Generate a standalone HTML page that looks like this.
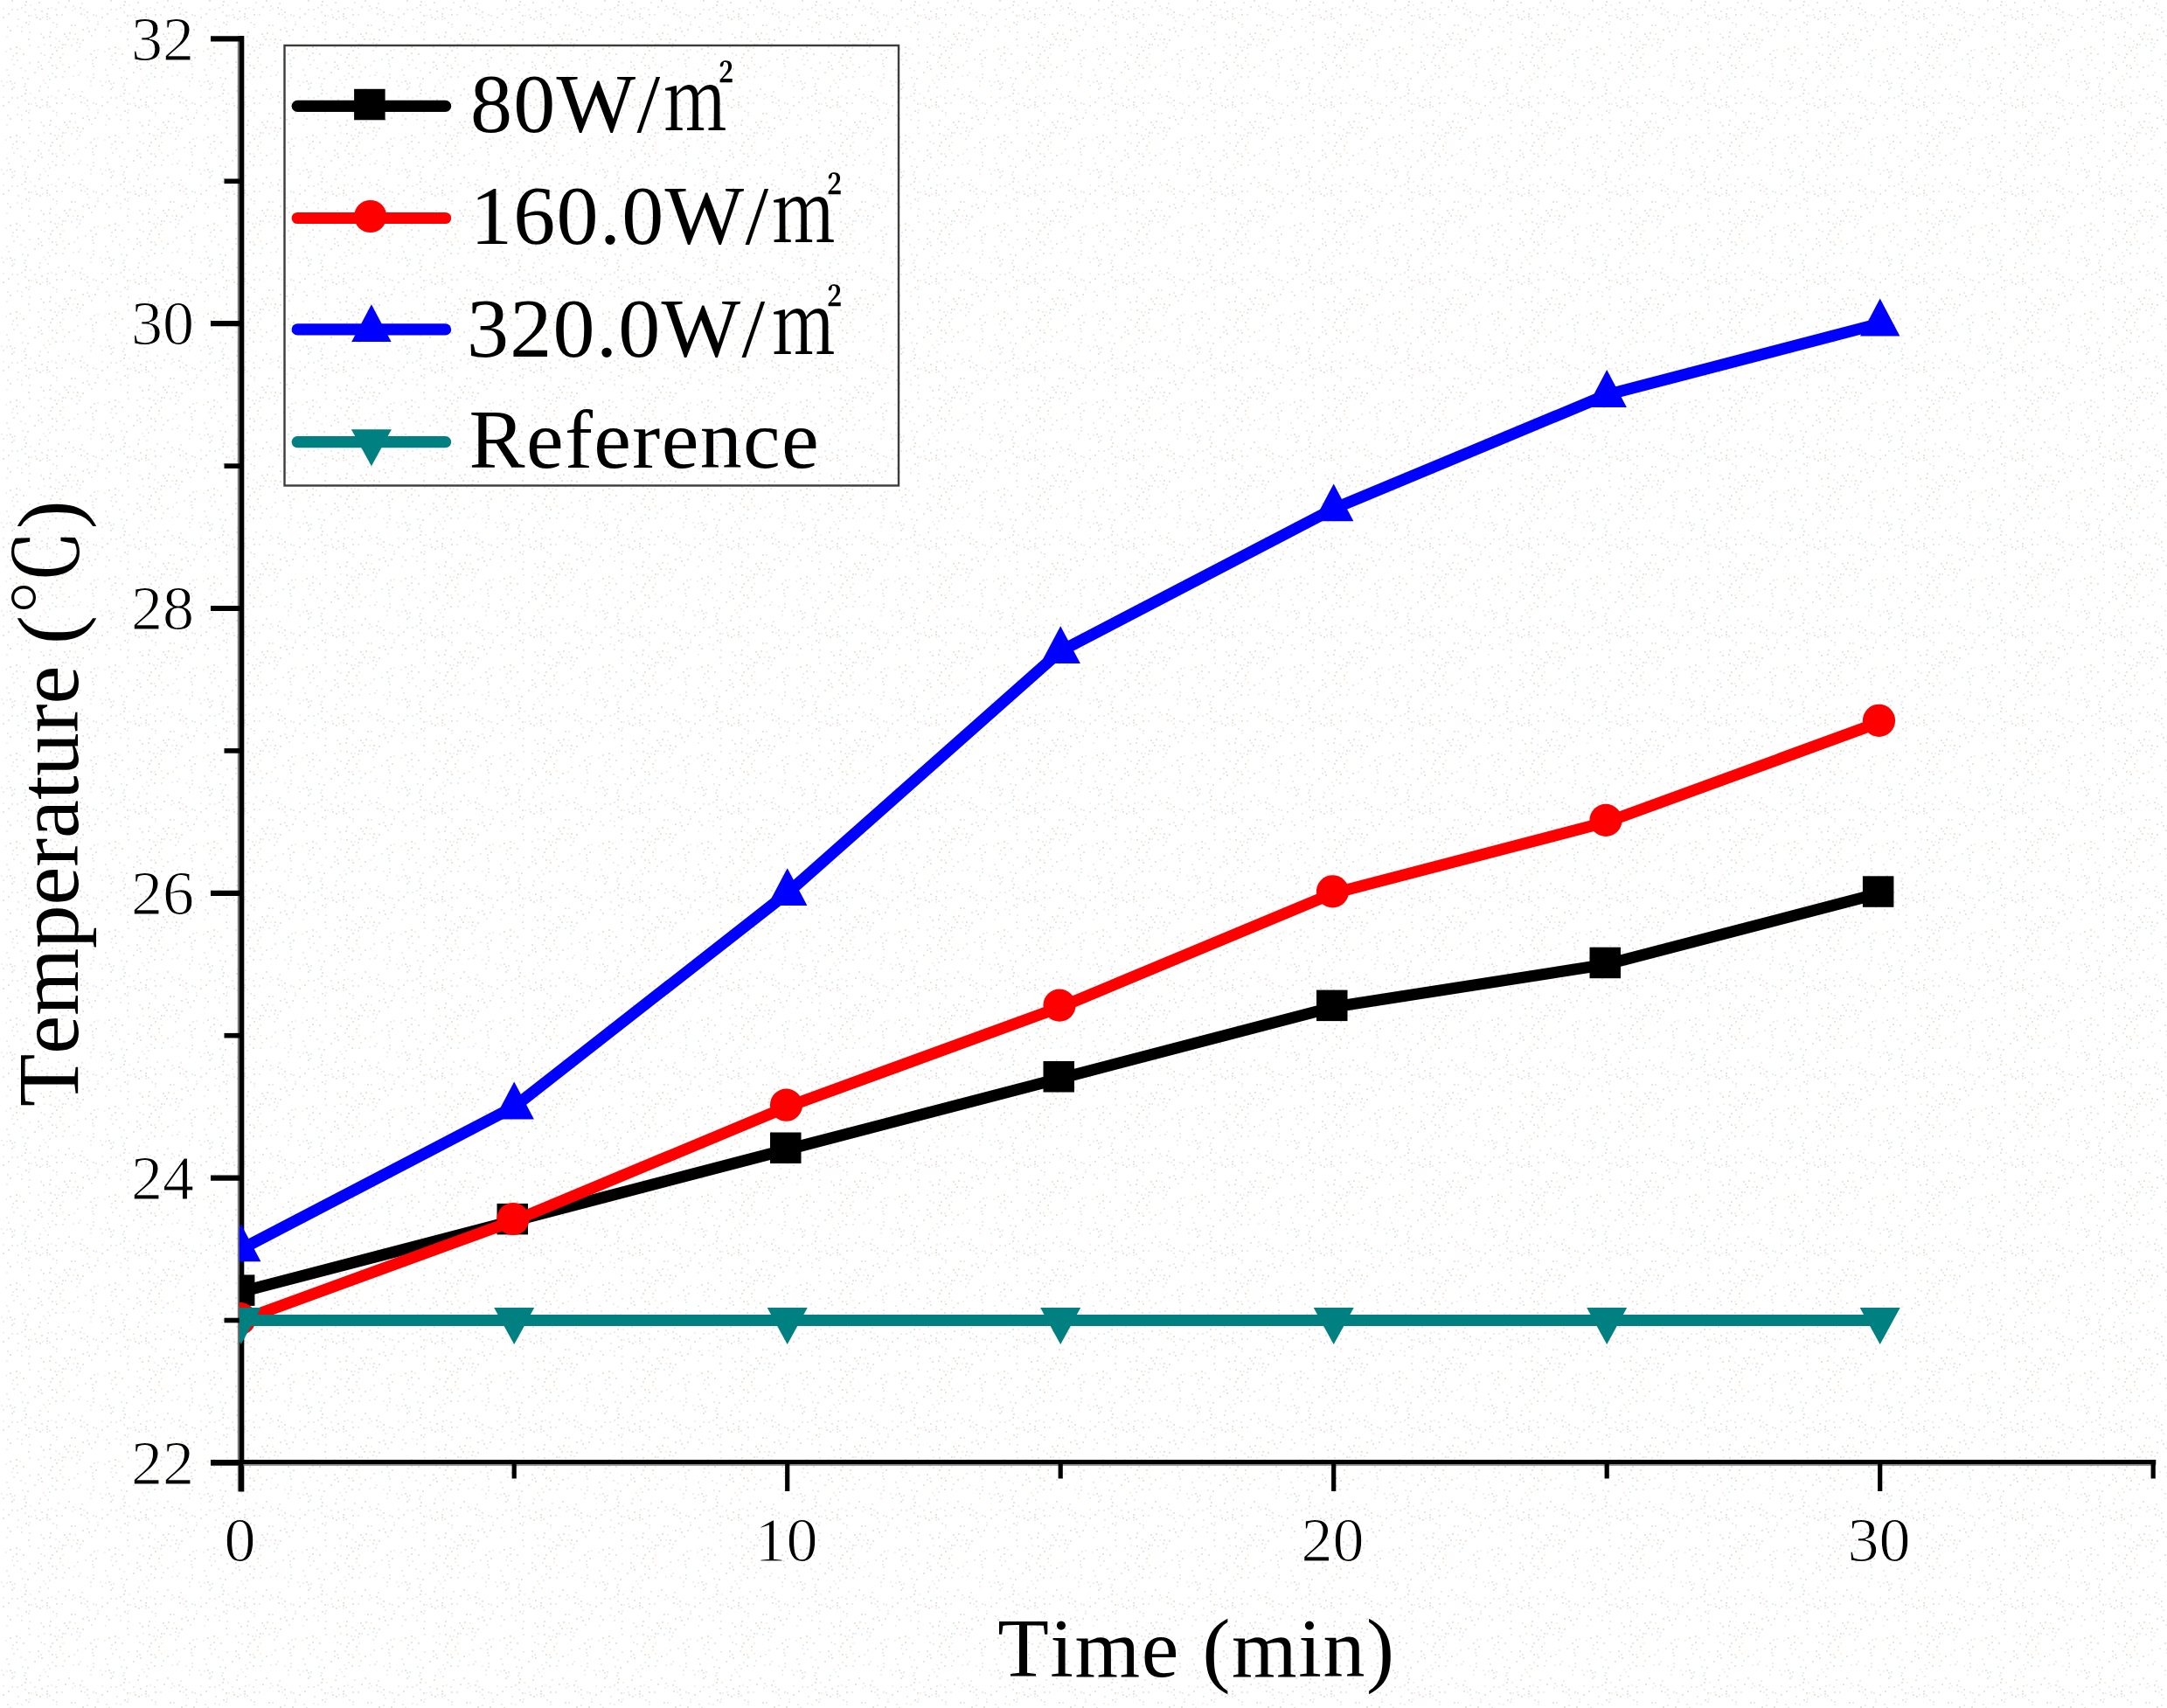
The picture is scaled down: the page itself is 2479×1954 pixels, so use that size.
<!DOCTYPE html>
<html lang="en"><head><meta charset="utf-8"><title>Temperature vs Time</title>
<style>
html,body{margin:0;padding:0;background:#fefefe;}
body{width:2479px;height:1954px;overflow:hidden;}
svg{display:block;}
text{font-family:"Liberation Serif","Noto Serif CJK SC",serif;fill:#000;font-kerning:none;}
.tick{font-size:72px;stroke:#fff;stroke-width:1.1px;}
.leg{font-size:96px;letter-spacing:1.3px;}
.sqm{font-size:100px;}
</style></head><body>
<svg width="2479" height="1954" viewBox="0 0 2479 1954">
<defs>
<pattern id="dots" width="113" height="101" patternUnits="userSpaceOnUse">
<rect x="41" y="19" width="2" height="2" fill="#e5e5dc"/><rect x="83" y="6" width="2" height="2" fill="#e4edef"/><rect x="105" y="68" width="2" height="2" fill="#e4edef"/><rect x="46" y="74" width="2" height="2" fill="#e4edef"/><rect x="64" y="27" width="2" height="2" fill="#e4edef"/><rect x="11" y="55" width="2" height="2" fill="#e5e5dc"/><rect x="8" y="30" width="2" height="2" fill="#e4edef"/><rect x="70" y="54" width="2" height="2" fill="#e4edef"/><rect x="105" y="72" width="2" height="2" fill="#e4edef"/><rect x="28" y="80" width="2" height="2" fill="#f7ebf7"/><rect x="74" y="7" width="2" height="2" fill="#e5e5dc"/><rect x="74" y="50" width="2" height="2" fill="#e4edef"/><rect x="28" y="5" width="2" height="2" fill="#e5e5dc"/><rect x="109" y="17" width="2" height="2" fill="#e4edef"/><rect x="53" y="18" width="2" height="2" fill="#e5e5dc"/><rect x="15" y="73" width="2" height="2" fill="#e4edef"/><rect x="71" y="87" width="2" height="2" fill="#e4edef"/><rect x="73" y="81" width="2" height="2" fill="#e4edef"/><rect x="47" y="12" width="2" height="2" fill="#e5e5dc"/><rect x="91" y="8" width="2" height="2" fill="#e5e5dc"/><rect x="7" y="79" width="2" height="2" fill="#e4edef"/><rect x="63" y="87" width="2" height="2" fill="#e5e5dc"/><rect x="54" y="99" width="2" height="2" fill="#e4edef"/><rect x="59" y="74" width="2" height="2" fill="#e5e5dc"/><rect x="46" y="38" width="2" height="2" fill="#e4edef"/><rect x="101" y="23" width="2" height="2" fill="#f7ebf7"/><rect x="99" y="31" width="2" height="2" fill="#e4edef"/><rect x="73" y="38" width="2" height="2" fill="#e5e5dc"/><rect x="63" y="43" width="2" height="2" fill="#f7ebf7"/><rect x="57" y="36" width="2" height="2" fill="#e5e5dc"/><rect x="9" y="15" width="2" height="2" fill="#e5e5dc"/><rect x="53" y="21" width="2" height="2" fill="#fceee2"/><rect x="62" y="53" width="2" height="2" fill="#e4edef"/><rect x="85" y="9" width="2" height="2" fill="#fceee2"/><rect x="71" y="73" width="2" height="2" fill="#fceee2"/><rect x="104" y="40" width="2" height="2" fill="#e4edef"/><rect x="88" y="44" width="2" height="2" fill="#e5e5dc"/><rect x="63" y="74" width="2" height="2" fill="#fceee2"/><rect x="58" y="8" width="2" height="2" fill="#fceee2"/><rect x="11" y="34" width="2" height="2" fill="#e5e5dc"/><rect x="89" y="85" width="2" height="2" fill="#e4edef"/><rect x="7" y="93" width="2" height="2" fill="#f7ebf7"/><rect x="39" y="82" width="2" height="2" fill="#e5e5dc"/><rect x="87" y="57" width="2" height="2" fill="#e4edef"/><rect x="91" y="49" width="2" height="2" fill="#f7ebf7"/><rect x="44" y="2" width="2" height="2" fill="#e5e5dc"/><rect x="45" y="21" width="2" height="2" fill="#e5e5dc"/><rect x="14" y="63" width="2" height="2" fill="#e4edef"/><rect x="27" y="98" width="2" height="2" fill="#e4edef"/><rect x="16" y="94" width="2" height="2" fill="#e4edef"/><rect x="50" y="50" width="2" height="2" fill="#fceee2"/><rect x="63" y="10" width="2" height="2" fill="#e4edef"/><rect x="57" y="51" width="2" height="2" fill="#e5e5dc"/><rect x="35" y="17" width="2" height="2" fill="#fceee2"/><rect x="55" y="70" width="2" height="2" fill="#e4edef"/><rect x="90" y="53" width="2" height="2" fill="#e4edef"/><rect x="87" y="48" width="2" height="2" fill="#e4edef"/><rect x="19" y="10" width="2" height="2" fill="#e4edef"/><rect x="19" y="29" width="2" height="2" fill="#f7ebf7"/><rect x="29" y="1" width="2" height="2" fill="#e5e5dc"/><rect x="106" y="75" width="2" height="2" fill="#e4edef"/><rect x="33" y="36" width="2" height="2" fill="#e4edef"/><rect x="18" y="53" width="2" height="2" fill="#e5e5dc"/><rect x="47" y="78" width="2" height="2" fill="#e5e5dc"/><rect x="40" y="16" width="2" height="2" fill="#f7ebf7"/><rect x="109" y="65" width="2" height="2" fill="#e5e5dc"/><rect x="83" y="86" width="2" height="2" fill="#f7ebf7"/><rect x="6" y="58" width="2" height="2" fill="#fceee2"/><rect x="99" y="87" width="2" height="2" fill="#fceee2"/><rect x="71" y="50" width="2" height="2" fill="#e5e5dc"/><rect x="81" y="51" width="2" height="2" fill="#e4edef"/><rect x="24" y="8" width="2" height="2" fill="#e4edef"/><rect x="56" y="20" width="2" height="2" fill="#e4edef"/><rect x="43" y="76" width="2" height="2" fill="#e4edef"/><rect x="13" y="0" width="2" height="2" fill="#e5e5dc"/><rect x="19" y="68" width="2" height="2" fill="#e4edef"/><rect x="3" y="9" width="2" height="2" fill="#fceee2"/><rect x="48" y="19" width="2" height="2" fill="#f7ebf7"/><rect x="32" y="44" width="2" height="2" fill="#e5e5dc"/><rect x="46" y="60" width="2" height="2" fill="#e4edef"/><rect x="59" y="61" width="2" height="2" fill="#e5e5dc"/><rect x="39" y="10" width="2" height="2" fill="#e4edef"/><rect x="13" y="95" width="2" height="2" fill="#e4edef"/><rect x="94" y="33" width="2" height="2" fill="#e5e5dc"/><rect x="106" y="88" width="2" height="2" fill="#e4edef"/><rect x="66" y="2" width="2" height="2" fill="#e4edef"/><rect x="67" y="46" width="2" height="2" fill="#e4edef"/><rect x="88" y="69" width="2" height="2" fill="#e4edef"/><rect x="97" y="67" width="2" height="2" fill="#e4edef"/><rect x="82" y="11" width="2" height="2" fill="#f7ebf7"/><rect x="108" y="33" width="2" height="2" fill="#e5e5dc"/><rect x="45" y="98" width="2" height="2" fill="#e4edef"/><rect x="68" y="69" width="2" height="2" fill="#fceee2"/><rect x="81" y="28" width="2" height="2" fill="#e5e5dc"/><rect x="103" y="97" width="2" height="2" fill="#fceee2"/><rect x="24" y="30" width="2" height="2" fill="#fceee2"/><rect x="51" y="94" width="2" height="2" fill="#fceee2"/><rect x="29" y="25" width="2" height="2" fill="#e5e5dc"/><rect x="93" y="3" width="2" height="2" fill="#e4edef"/><rect x="101" y="35" width="2" height="2" fill="#e5e5dc"/><rect x="33" y="24" width="2" height="2" fill="#f7ebf7"/><rect x="77" y="44" width="2" height="2" fill="#e5e5dc"/><rect x="103" y="92" width="2" height="2" fill="#e4edef"/><rect x="28" y="13" width="2" height="2" fill="#e4edef"/><rect x="60" y="25" width="2" height="2" fill="#e4edef"/><rect x="26" y="61" width="2" height="2" fill="#e5e5dc"/><rect x="78" y="0" width="2" height="2" fill="#e5e5dc"/><rect x="83" y="44" width="2" height="2" fill="#fceee2"/><rect x="106" y="84" width="2" height="2" fill="#e4edef"/><rect x="49" y="91" width="2" height="2" fill="#fceee2"/><rect x="22" y="55" width="2" height="2" fill="#fceee2"/><rect x="11" y="92" width="2" height="2" fill="#e5e5dc"/><rect x="95" y="10" width="2" height="2" fill="#f7ebf7"/><rect x="20" y="21" width="2" height="2" fill="#e4edef"/><rect x="3" y="19" width="2" height="2" fill="#e5e5dc"/><rect x="59" y="83" width="2" height="2" fill="#e4edef"/><rect x="78" y="76" width="2" height="2" fill="#e5e5dc"/><rect x="70" y="16" width="2" height="2" fill="#e4edef"/><rect x="1" y="92" width="2" height="2" fill="#f7ebf7"/><rect x="13" y="67" width="2" height="2" fill="#f7ebf7"/><rect x="111" y="24" width="2" height="2" fill="#fceee2"/><rect x="111" y="27" width="2" height="2" fill="#e4edef"/><rect x="32" y="27" width="2" height="2" fill="#e4edef"/><rect x="64" y="30" width="2" height="2" fill="#fceee2"/><rect x="75" y="41" width="2" height="2" fill="#e4edef"/><rect x="106" y="16" width="2" height="2" fill="#e4edef"/><rect x="94" y="45" width="2" height="2" fill="#e5e5dc"/><rect x="84" y="74" width="2" height="2" fill="#fceee2"/><rect x="66" y="53" width="2" height="2" fill="#fceee2"/><rect x="64" y="16" width="2" height="2" fill="#e5e5dc"/><rect x="111" y="56" width="2" height="2" fill="#fceee2"/><rect x="23" y="77" width="2" height="2" fill="#e4edef"/><rect x="99" y="19" width="2" height="2" fill="#e4edef"/><rect x="18" y="60" width="2" height="2" fill="#e5e5dc"/><rect x="92" y="15" width="2" height="2" fill="#e5e5dc"/><rect x="7" y="41" width="2" height="2" fill="#f7ebf7"/><rect x="71" y="61" width="2" height="2" fill="#fceee2"/><rect x="99" y="13" width="2" height="2" fill="#e5e5dc"/><rect x="24" y="35" width="2" height="2" fill="#e4edef"/><rect x="64" y="57" width="2" height="2" fill="#e5e5dc"/><rect x="3" y="97" width="2" height="2" fill="#e4edef"/><rect x="56" y="41" width="2" height="2" fill="#e5e5dc"/><rect x="64" y="77" width="2" height="2" fill="#e5e5dc"/><rect x="25" y="88" width="2" height="2" fill="#e4edef"/><rect x="57" y="65" width="2" height="2" fill="#e5e5dc"/><rect x="103" y="61" width="2" height="2" fill="#e5e5dc"/><rect x="31" y="89" width="2" height="2" fill="#e5e5dc"/><rect x="33" y="71" width="2" height="2" fill="#e4edef"/><rect x="107" y="57" width="2" height="2" fill="#e4edef"/><rect x="53" y="15" width="2" height="2" fill="#e5e5dc"/><rect x="9" y="85" width="2" height="2" fill="#e4edef"/><rect x="54" y="9" width="2" height="2" fill="#e4edef"/><rect x="85" y="38" width="2" height="2" fill="#fceee2"/><rect x="15" y="99" width="2" height="2" fill="#e4edef"/><rect x="91" y="82" width="2" height="2" fill="#f7ebf7"/><rect x="32" y="17" width="2" height="2" fill="#e5e5dc"/><rect x="28" y="95" width="2" height="2" fill="#e4edef"/><rect x="50" y="62" width="2" height="2" fill="#e4edef"/><rect x="85" y="28" width="2" height="2" fill="#e4edef"/><rect x="43" y="53" width="2" height="2" fill="#e4edef"/><rect x="43" y="70" width="2" height="2" fill="#e5e5dc"/><rect x="56" y="90" width="2" height="2" fill="#e4edef"/><rect x="49" y="42" width="2" height="2" fill="#e5e5dc"/><rect x="79" y="37" width="2" height="2" fill="#e5e5dc"/><rect x="13" y="10" width="2" height="2" fill="#e4edef"/><rect x="34" y="5" width="2" height="2" fill="#fceee2"/><rect x="96" y="16" width="2" height="2" fill="#fceee2"/><rect x="54" y="86" width="2" height="2" fill="#fceee2"/><rect x="33" y="51" width="2" height="2" fill="#e4edef"/><rect x="68" y="65" width="2" height="2" fill="#e5e5dc"/></pattern>
<clipPath id="plot"><rect x="273.8" y="0" width="2479" height="1700"/></clipPath>
</defs>
<rect width="2479" height="1954" fill="#ffffff"/>
<rect width="2479" height="1954" fill="url(#dots)"/>
<g stroke="#000" fill="none">
<line x1="273" y1="41" x2="273" y2="1706.5" stroke="#777" stroke-width="2.4"/>
<line x1="276.6" y1="41" x2="276.6" y2="1706.5" stroke-width="5.4"/>
<line x1="241" y1="1672.6" x2="2466.3" y2="1672.6" stroke-width="5.4"/>
<line x1="241" y1="1676" x2="2466.3" y2="1676" stroke="#777" stroke-width="1.6"/>
<line x1="241" y1="1673.4" x2="274" y2="1673.4" stroke-width="6.2"/>
<line x1="256.5" y1="1510.5" x2="274" y2="1510.5" stroke-width="5.6"/>
<line x1="241" y1="1347.6" x2="274" y2="1347.6" stroke-width="6.2"/>
<line x1="256.5" y1="1184.7" x2="274" y2="1184.7" stroke-width="5.6"/>
<line x1="241" y1="1021.8" x2="274" y2="1021.8" stroke-width="6.2"/>
<line x1="256.5" y1="858.9" x2="274" y2="858.9" stroke-width="5.6"/>
<line x1="241" y1="696.0" x2="274" y2="696.0" stroke-width="6.2"/>
<line x1="256.5" y1="533.1" x2="274" y2="533.1" stroke-width="5.6"/>
<line x1="241" y1="370.2" x2="274" y2="370.2" stroke-width="6.2"/>
<line x1="256.5" y1="207.3" x2="274" y2="207.3" stroke-width="5.6"/>
<line x1="241" y1="44.4" x2="274" y2="44.4" stroke-width="6.2"/>
<line x1="275.7" y1="1674" x2="275.7" y2="1706" stroke-width="5.2"/>
<line x1="588.2" y1="1674" x2="588.2" y2="1691.5" stroke-width="5.2"/>
<line x1="900.7" y1="1674" x2="900.7" y2="1706" stroke-width="5.2"/>
<line x1="1213.2" y1="1674" x2="1213.2" y2="1691.5" stroke-width="5.2"/>
<line x1="1525.7" y1="1674" x2="1525.7" y2="1706" stroke-width="5.2"/>
<line x1="1838.2" y1="1674" x2="1838.2" y2="1691.5" stroke-width="5.2"/>
<line x1="2150.7" y1="1674" x2="2150.7" y2="1706" stroke-width="5.2"/>
<line x1="2463.2" y1="1674" x2="2463.2" y2="1691.5" stroke-width="5.2"/>
</g>
<g class="tick">
<text x="222" y="1697.6" text-anchor="end">22</text>
<text x="222" y="1371.8" text-anchor="end">24</text>
<text x="222" y="1046.0" text-anchor="end">26</text>
<text x="222" y="720.2" text-anchor="end">28</text>
<text x="222" y="394.4" text-anchor="end">30</text>
<text x="222" y="68.6" text-anchor="end">32</text>
<text x="274.5" y="1785.5" text-anchor="middle">0</text>
<text x="899.5" y="1785.5" text-anchor="middle">10</text>
<text x="1524.5" y="1785.5" text-anchor="middle">20</text>
<text x="2149.5" y="1785.5" text-anchor="middle">30</text>
</g>
<g clip-path="url(#plot)">
<polyline points="275.7,1477.9 588.2,1396.5 900.7,1315.0 1213.2,1233.6 1525.7,1152.1 1838.2,1103.2 2150.7,1021.8" fill="none" stroke="#000000" stroke-width="13.2" stroke-linejoin="round"/>
<rect x="255.9" y="1458.4" width="35.5" height="35.5" fill="#000000"/>
<rect x="568.5" y="1376.9" width="35.5" height="35.5" fill="#000000"/>
<rect x="881.0" y="1295.5" width="35.5" height="35.5" fill="#000000"/>
<rect x="1193.5" y="1214.0" width="35.5" height="35.5" fill="#000000"/>
<rect x="1506.0" y="1132.6" width="35.5" height="35.5" fill="#000000"/>
<rect x="1818.5" y="1083.7" width="35.5" height="35.5" fill="#000000"/>
<rect x="2130.9" y="1002.3" width="35.5" height="35.5" fill="#000000"/>
<polyline points="275.7,1510.5 588.2,1396.5 900.7,1266.2 1213.2,1152.1 1525.7,1021.8 1838.2,940.4 2150.7,826.3" fill="none" stroke="#ff0000" stroke-width="13.2" stroke-linejoin="round"/>
<circle cx="274.5" cy="1508.5" r="18.6" fill="#ff0000"/>
<circle cx="587.0" cy="1394.5" r="18.6" fill="#ff0000"/>
<circle cx="899.5" cy="1264.2" r="18.6" fill="#ff0000"/>
<circle cx="1212.0" cy="1150.1" r="18.6" fill="#ff0000"/>
<circle cx="1524.5" cy="1019.8" r="18.6" fill="#ff0000"/>
<circle cx="1837.0" cy="938.4" r="18.6" fill="#ff0000"/>
<circle cx="2149.5" cy="824.3" r="18.6" fill="#ff0000"/>
<polyline points="275.7,1429.1 588.2,1266.2 900.7,1021.8 1213.2,744.9 1525.7,582.0 1838.2,451.7 2150.7,370.2" fill="none" stroke="#0000ff" stroke-width="13.2" stroke-linejoin="round"/>
<polygon points="275.7,1400.5 298.4,1443.3 253.0,1443.3" fill="#0000ff"/>
<polygon points="588.2,1237.6 610.9,1280.4 565.5,1280.4" fill="#0000ff"/>
<polygon points="900.7,993.2 923.4,1036.0 878.0,1036.0" fill="#0000ff"/>
<polygon points="1213.2,716.3 1235.9,759.1 1190.5,759.1" fill="#0000ff"/>
<polygon points="1525.7,553.4 1548.4,596.2 1503.0,596.2" fill="#0000ff"/>
<polygon points="1838.2,423.1 1860.9,465.9 1815.5,465.9" fill="#0000ff"/>
<polygon points="2150.7,341.6 2173.4,384.4 2128.0,384.4" fill="#0000ff"/>
<polyline points="275.7,1510.5 588.2,1510.5 900.7,1510.5 1213.2,1510.5 1525.7,1510.5 1838.2,1510.5 2150.7,1510.5" fill="none" stroke="#008080" stroke-width="13.2" stroke-linejoin="round"/>
<polygon points="275.7,1538.1 298.7,1496.1 252.7,1496.1" fill="#008080"/>
<polygon points="588.2,1538.1 611.2,1496.1 565.2,1496.1" fill="#008080"/>
<polygon points="900.7,1538.1 923.7,1496.1 877.7,1496.1" fill="#008080"/>
<polygon points="1213.2,1538.1 1236.2,1496.1 1190.2,1496.1" fill="#008080"/>
<polygon points="1525.7,1538.1 1548.7,1496.1 1502.7,1496.1" fill="#008080"/>
<polygon points="1838.2,1538.1 1861.2,1496.1 1815.2,1496.1" fill="#008080"/>
<polygon points="2150.7,1538.1 2173.7,1496.1 2127.7,1496.1" fill="#008080"/>
</g>
<rect x="325.5" y="52" width="702.5" height="503.5" fill="none" stroke="#3c3c3c" stroke-width="2.4"/>
<line x1="340.2" y1="121.3" x2="509.6" y2="121.3" stroke="#000000" stroke-width="13.2" stroke-linecap="round"/>
<rect x="405.1" y="101.8" width="35.5" height="35.5" fill="#000000"/>
<text class="leg" x="538" y="151">80W/</text><text class="sqm" transform="translate(758.9,148.8) scale(0.80,0.94)">㎡</text>
<line x1="340.2" y1="249.5" x2="509.6" y2="249.5" stroke="#ff0000" stroke-width="13.2" stroke-linecap="round"/>
<circle cx="423.7" cy="247.5" r="18.6" fill="#ff0000"/>
<text class="leg" x="538" y="279.2">160.0W/</text><text class="sqm" transform="translate(883.1,277.0) scale(0.80,0.94)">㎡</text>
<line x1="340.2" y1="376.9" x2="509.6" y2="376.9" stroke="#0000ff" stroke-width="13.2" stroke-linecap="round"/>
<polygon points="424.9,348.3 447.6,391.1 402.2,391.1" fill="#0000ff"/>
<text class="leg" x="534" y="407.5">320.0W/</text><text class="sqm" transform="translate(883.1,405.3) scale(0.80,0.94)">㎡</text>
<line x1="340.2" y1="505.6" x2="509.6" y2="505.6" stroke="#008080" stroke-width="13.2" stroke-linecap="round"/>
<polygon points="424.9,533.2 447.9,491.2 401.9,491.2" fill="#008080"/>
<text class="leg" x="536.5" y="534.5" style="letter-spacing:1.4px">Reference</text>
<text x="1141.2" y="1917.5" font-size="96" style="letter-spacing:1.54px">Time (min)</text>
<text transform="translate(88.7,1266) rotate(-90)" font-size="99" style="letter-spacing:-0.12px">Temperature (℃)</text>
</svg>
</body></html>
